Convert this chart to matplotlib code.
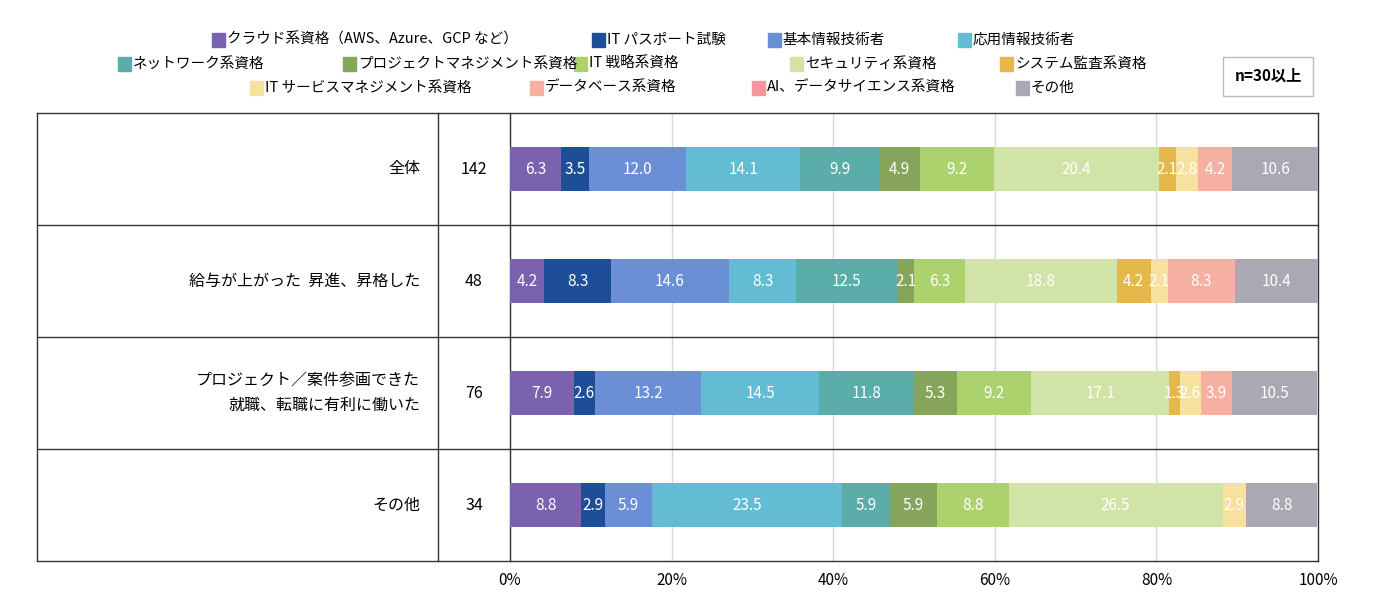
import matplotlib.pyplot as plt
from matplotlib.patches import Rectangle
from matplotlib.lines import Line2D

plt.rcParams['font.family'] = ['Noto Sans CJK JP', 'DejaVu Sans']

# Data
categories = ['全体', '給与が上がった  昇進、昇格した', 'プロジェクト／案件参画できた\n就職、転職に有利に働いた', 'その他']
counts = [142, 48, 76, 34]
series = ['クラウド系資格（AWS、Azure、GCP など）', 'IT パスポート試験', '基本情報技術者', '応用情報技術者',
          'ネットワーク系資格', 'プロジェクトマネジメント系資格', 'IT 戦略系資格', 'セキュリティ系資格', 'システム監査系資格',
          'IT サービスマネジメント系資格', 'データベース系資格', 'AI、データサイエンス系資格', 'その他']
values = [
    [6.3, 4.2, 7.9, 8.8],
    [3.5, 8.3, 2.6, 2.9],
    [12.0, 14.6, 13.2, 5.9],
    [14.1, 8.3, 14.5, 23.5],
    [9.9, 12.5, 11.8, 5.9],
    [4.9, 2.1, 5.3, 5.9],
    [9.2, 6.3, 9.2, 8.8],
    [20.4, 18.8, 17.1, 26.5],
    [2.1, 4.2, 1.3, 0],
    [2.8, 2.1, 2.6, 2.9],
    [4.2, 8.3, 3.9, 0],
    [0, 0, 0, 0],
    [10.6, 10.4, 10.5, 8.8],
]
colors = ['#7b62ae', '#1f4e99', '#6a8fd6', '#63bcd4', '#5aada8', '#86a55a', '#acd26e',
          '#d2e3a8', '#e6b84a', '#f7e19f', '#f6b0a2', '#f4979c', '#a9a8b3']

W, H = 1374, 614
fig = plt.figure(figsize=(W / 100, H / 100), dpi=100)
ax = fig.add_axes([510 / W, 1 - 561 / H, 808 / W, 448 / H])

ypos = list(range(len(categories)))
left = [0] * len(categories)
for vals, col in zip(values, colors):
    ax.barh(ypos, vals, left=left, height=0.4, color=col, zorder=3)
    for i, v in enumerate(vals):
        if v > 0:
            ax.text(left[i] + v / 2, i, f'{v:.1f}', ha='center', va='center', color='white', fontsize=11, zorder=4)
    left = [l + v for l, v in zip(left, vals)]

ax.set_xlim(0, 100)
ax.set_ylim(3.5, -0.5)
ax.set_xticks(range(0, 101, 20))
ax.set_xticklabels([f'{t}%' for t in range(0, 101, 20)], fontsize=11)
ax.tick_params(length=0, pad=8)
ax.set_yticks([])
ax.grid(axis='x', color='#d9d9d9', lw=1, zorder=0)
for s in ax.spines.values():
    s.set_visible(False)

# table lines
x_left = (37 - 510) / 808 * 100
x_mid = (438 - 510) / 808 * 100
for yb in [-0.5, 0.5, 1.5, 2.5, 3.5]:
    ax.add_line(Line2D([x_left, 100], [yb, yb], color='#333333', lw=1, clip_on=False))
for xb in [x_left, x_mid, 0, 100]:
    ax.add_line(Line2D([xb, xb], [-0.5, 3.5], color='#333333', lw=1, clip_on=False))
for i, (c, n) in enumerate(zip(categories, counts)):
    ax.text((420 - 510) / 808 * 100, i, c, ha='right', va='center', fontsize=11.5, linespacing=1.6)
    ax.text((474 - 510) / 808 * 100, i, str(n), ha='center', va='center', fontsize=11.5)

# legend
rows = [
    (40, [212, 592, 768, 958], series[0:4], colors[0:4]),
    (64, [118, 343, 574, 790, 1000], series[4:9], colors[4:9]),
    (88, [250, 530, 752, 1016], series[9:13], colors[9:13]),
]
for yy, xs, names, cols in rows:
    for x, name, col in zip(xs, names, cols):
        fig.patches.append(Rectangle((x / W, 1 - (yy + 7) / H), 13 / W, 14 / H, color=col, transform=fig.transFigure))
        fig.text((x + 15) / W, 1 - yy / H, name, ha='left', va='center', fontsize=10.5)

fig.patches.append(Rectangle((1223 / W, 1 - 96 / H), 90 / W, 39 / H, fill=False, ec='#bbbbbb', lw=1,
                             transform=fig.transFigure))
fig.text(1268 / W, 1 - 76 / H, 'n=30以上', ha='center', va='center', fontsize=11, fontweight='bold')

fig.savefig('out.png', dpi=100, facecolor='white')
